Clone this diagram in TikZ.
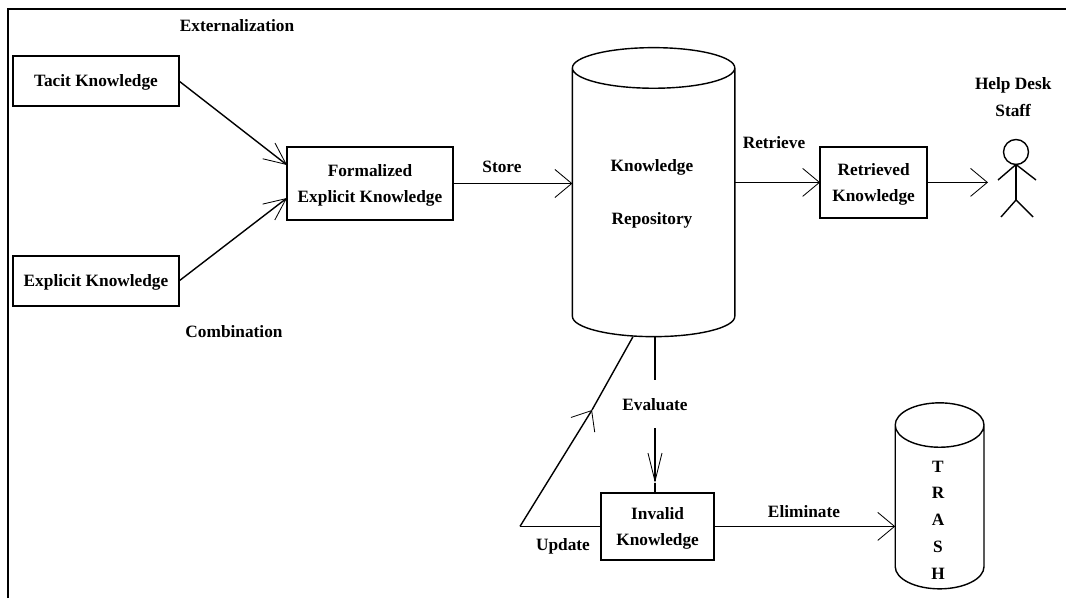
\documentclass[tikz,border=0pt]{standalone}
\usepackage{fontspec}
\setmainfont{Liberation Serif}
\usetikzlibrary{arrows.meta,shapes.geometric}
\tikzset{
  every node/.style={font=\bfseries\fontsize{12.3}{19}\selectfont, align=center},
  kbox/.style={draw, line width=1pt, inner sep=0pt, outer sep=0pt, text depth=-3pt},
  store/.style={draw, line width=1pt, cylinder, shape border rotate=90, outer sep=0pt},
  link/.style={line width=1pt},
  barb/.style={link, -{Straight Barb[length=0.42cm, width=0.7cm, line width=0.6pt]}},
  slimbarb/.style={link, -{Straight Barb[length=0.55cm, width=0.5cm, line width=0.6pt]}},
  narrowbarb/.style={link, -{Straight Barb[length=0.7cm, width=0.35cm, line width=0.6pt]}}
}
\begin{document}
\begin{tikzpicture}
  \useasboundingbox (0,0) rectangle (26.65,14.95);
  \draw[line width=1.5pt] (0.19,0) -- (0.19,14.725) -- (26.65,14.725);

  \node[kbox, minimum width=4.15cm, minimum height=1.25cm] (tacit) at (2.4,12.925) {Tacit Knowledge};
  \node[kbox, minimum width=4.15cm, minimum height=1.25cm] (expl) at (2.4,7.925) {Explicit Knowledge};
  \node[kbox, minimum width=4.15cm, minimum height=1.825cm] (formal) at (9.25,10.3625) {Formalized\\Explicit Knowledge};
  \node[kbox, minimum width=2.675cm, minimum height=1.775cm] (retr) at (21.84,10.39) {Retrieved\\Knowledge};
  \node[kbox, minimum width=2.825cm, minimum height=1.675cm] (inval) at (16.44,1.79) {Invalid\\Knowledge};

  \node[store, inner sep=2.03cm, minimum height=7.225cm, shape aspect=0.25] (repo) at (16.34,9.63) {};
  \node[store, inner sep=1.11cm, minimum height=4.65cm, shape aspect=0.5] (trash) at (23.49,1.99) {};

  \node (knowl) at (16.3,10.775) {Knowledge};
  \node (repos) at (16.3,9.45) {Repository};
  \node (trashtxt) at (23.45,1.95) {T\\R\\A\\S\\H};

  \node (extern) at (5.925,14.3) {Externalization};
  \node (combin) at (5.85,6.65) {Combination};
  \node (storetxt) at (12.55,10.775) {Store};
  \node (retrtxt) at (19.35,11.375) {Retrieve};
  \node (evaltxt) at (16.375,4.825) {Evaluate};
  \node (updtxt) at (14.075,1.3) {Update};
  \node (elimtxt) at (20.1,2.15) {Eliminate};
  \node (staff) at (25.33,12.525) {Help Desk\\Staff};

  % person
  \node[draw, circle, line width=1pt, minimum size=0.625cm, inner sep=0pt, outer sep=0pt] (head) at (25.4,11.15) {};
  \coordinate (hip) at (25.4,9.95);
  \draw[link] (head.south) -- (hip);
  \draw[link] (24.95,10.45) -- (head.south) -- (25.9,10.45);
  \draw[link] (25.025,9.525) -- (hip) -- (25.825,9.525);

  \draw[slimbarb] (tacit.east) -- (formal.west |- 0,10.825);
  \draw[slimbarb] (expl.east) -- (formal.west |- 0,10.0);
  \draw[barb] (formal.east) -- (repo.west |- formal.east);
  \draw[barb] (repo.east |- retr.west) -- (retr.west);
  \coordinate (staffin) at (24.7,10.39);
  \draw[barb] (retr.east) -- (staffin);

  % evaluate, line is broken by its label
  \coordinate (evaltip) at (16.375,2.88);
  \draw[link] (evaltxt.north |- repo.south) -- ([yshift=0.35cm]evaltxt.north);
  \draw[narrowbarb] ([yshift=-0.3cm]evaltxt.south) -- (evaltip);
  \draw[link] (evaltip) -- (evaltip |- inval.north);

  % update goes back up to the repository
  \coordinate (updcorner) at (13.0,1.79);
  \coordinate (updtip) at (14.8,4.7);
  \draw[link] (inval.west) -- (updcorner);
  \draw[barb] (updcorner) -- (updtip);
  \draw[link] (updtip) -- ([xshift=-0.515cm]repo.south);

  \draw[barb] (inval.east) -- (trash.west |- inval.east);
\end{tikzpicture}
\end{document}
